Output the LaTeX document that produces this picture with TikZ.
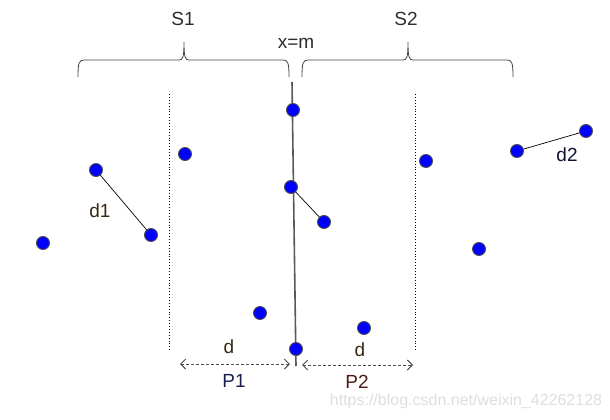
\documentclass[tikz,border=0pt]{standalone}
\usepackage{fontspec}
\setmainfont{Liberation Sans}
\usepackage{tikz}
\usepackage{xcolor}
\definecolor{ptblue}{RGB}{0, 0, 255}
\definecolor{labgray}{RGB}{45, 45, 45}
\definecolor{labbrown}{RGB}{55, 40, 20}
\definecolor{labnavy}{RGB}{25, 30, 85}
\definecolor{labred}{RGB}{80, 25, 20}
\definecolor{markgray}{RGB}{222, 222, 222}
\usetikzlibrary{arrows.meta}

\begin{document}
\begin{tikzpicture}[x=1pt, y=-1pt,
    datapt/.style={draw=black!70, fill=ptblue, circle, line width=0.9pt, inner sep=0pt, minimum size=13pt},
    lab/.style={font=\fontsize{19}{22}\selectfont, text=labgray},
    gap/.style={dash pattern=on 3pt off 2pt, black!70, line width=1pt, {Straight Barb[length=5pt, width=10pt]}-{Straight Barb[length=5pt, width=10pt]}}]
    \useasboundingbox (0,0) rectangle (610,420);

    % Braces over the two halves
    \foreach \a/\m/\b in {78/184/289, 302/408/513} {
        \draw[black!75, line width=0.8pt] (\a,77) .. controls (\a,63) and (\a+1,60) .. (\a+6,60) -- (\m-5,60)
            .. controls (\m-1,60) and (\m,57) .. (\m,42) .. controls (\m,57) and (\m+1,60) .. (\m+5,60)
            -- (\b-6,60) .. controls (\b-1,60) and (\b,63) .. (\b,77);
    }
    \node[lab] (s1) at (183,19) {S1};
    \node[lab] (s2) at (406,19) {S2};
    \node[lab] (xm) at (296,43) {x=m};

    % Strip borders
    \coordinate (l1t) at (169,94);
    \coordinate (l1b) at (169,352);
    \coordinate (l2t) at (415,94);
    \coordinate (l2b) at (415,352);
    \draw[dotted, line width=0.9pt] (l1t) -- (l1b);
    \draw[dotted, line width=0.9pt] (l2t) -- (l2b);

    % Dividing line x=m
    \coordinate (mtop) at (292,82);
    \coordinate (mbot) at (296,366);
    \draw[black!65, line width=1.6pt] (mtop) -- (mbot);

    % Points
    \foreach \n/\x/\y in {p1/96/170, p2/151/235, p3/43/243, p4/185/154, p5/293/110, p6/291/187,
                          p7/324/222, p8/260/313, p9/296/349, p10/364/328, p11/426/161,
                          p12/517/151, p13/586/131, p14/479/249} {
        \coordinate (\n) at (\x,\y);
    }

    % Pair distances
    \draw[black, line width=0.7pt] (p1) -- (p2);
    \draw[black, line width=0.7pt] (p6) -- (p7);
    \draw[black, line width=0.7pt] (p12) -- (p13);

    \foreach \n in {p1,p2,p3,p4,p5,p6,p7,p8,p9,p10,p11,p12,p13,p14} {
        \node[datapt] at (\n) {};
    }

    \node[lab, text=labbrown] (d1) at (100,211) {d1};
    \node[lab, text=labnavy!60!black] (d2) at (567,155) {d2};

    % Strip widths
    \coordinate (a1l) at (180,364);
    \coordinate (a1r) at (290,364);
    \coordinate (a2l) at (302,365);
    \coordinate (a2r) at (413,365);
    \draw[gap] (a1l) -- (a1r);
    \draw[gap] (a2l) -- (a2r);
    \node[lab, text=labbrown] (dl) at (229,347) {d};
    \node[lab, text=labbrown] (dr) at (360,350) {d};
    \node[lab, text=labnavy] (pa) at (234,381) {P1};
    \node[lab, text=labred] (pb) at (357,382) {P2};

    \node[font=\fontsize{16}{19}\selectfont, text=markgray] (wm) at (466,401) {https://blog.csdn.net/weixin\_42262128};
\end{tikzpicture}
\end{document}
